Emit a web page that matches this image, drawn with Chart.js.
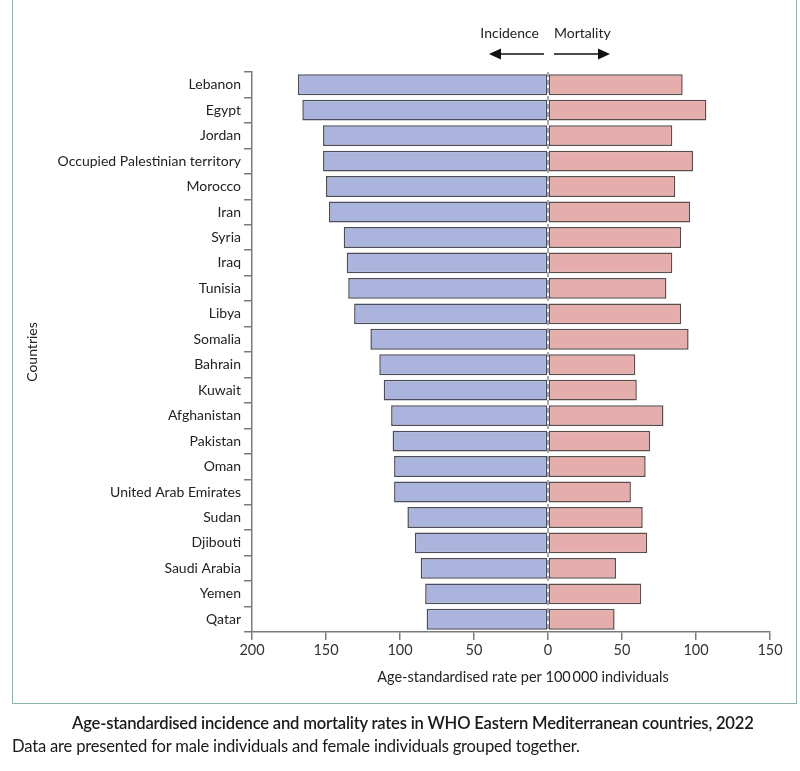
<!DOCTYPE html>
<html>
<head>
<meta charset="utf-8">
<script src="https://cdn.jsdelivr.net/npm/chart.js@4.4.1/dist/chart.umd.min.js"></script>
<style>
  html, body { margin: 0; padding: 0; background: #fff; }
  body { width: 800px; height: 771px; position: relative; overflow: hidden; font-family: Lato, 'Noto Sans', sans-serif; }
  .frame { position: absolute; left: 12px; top: -4px; width: 785px; height: 708px; border: 1.5px solid #8cb3a2; box-sizing: border-box; }
  .wrap { position: absolute; left: 0; top: 0; width: 800px; height: 771px; }
  .cap1 { position: absolute; left: 72px; top: 713px; font-size: 16.6px; font-weight: 600; color: #1a1a1a; white-space: nowrap; letter-spacing: -0.2px; }
  .cap2 { position: absolute; left: 12px; top: 736px; font-size: 16.6px; color: #1a1a1a; white-space: nowrap; letter-spacing: -0.2px; }
</style>
</head>
<body>
<div class="frame"></div>
<div class="wrap"><canvas id="chart" width="800" height="771"></canvas></div>
<div class="cap1">Age-standardised incidence and mortality rates in WHO Eastern Mediterranean countries, 2022</div>
<div class="cap2">Data are presented for male individuals and female individuals grouped together.</div>
<script>
// categories top to bottom
const countries = [
  'Lebanon', 'Egypt', 'Jordan', 'Occupied Palestinian territory', 'Morocco',
  'Iran', 'Syria', 'Iraq', 'Tunisia', 'Libya', 'Somalia', 'Bahrain', 'Kuwait',
  'Afghanistan', 'Pakistan', 'Oman', 'United Arab Emirates', 'Sudan',
  'Djibouti', 'Saudi Arabia', 'Yemen', 'Qatar'
]

// incidence per 100 000 (drawn to the left)
const incidence = [169, 166, 152, 152, 150, 148, 138, 136, 135, 131, 120, 114, 111, 106, 105, 104, 104, 95, 90, 86, 83, 82]

// mortality per 100 000 (drawn to the right)
const mortality = [91, 107, 84, 98, 86, 96, 90, 84, 80, 90, 95, 59, 60, 78, 69, 66, 56, 64, 67, 46, 63, 45]

const xTicks = [-200, -150, -100, -50, 0, 50, 100, 150]

const fontFamily = "Lato, 'Noto Sans', sans-serif"

// dashed zero line, header with arrows and the x axis title
const headerPlugin = {
  id: 'header',
  afterDatasetsDraw (chart) {
    const { ctx, chartArea } = chart
    const x0 = chart.scales.x.getPixelForValue(0)
    ctx.save()
    ctx.strokeStyle = '#8c8c96'
    ctx.lineWidth = 1.5
    ctx.setLineDash([5, 3])
    ctx.beginPath()
    ctx.moveTo(x0, chartArea.top)
    ctx.lineTo(x0, chartArea.bottom)
    ctx.stroke()
    ctx.restore()
  },
  afterDraw (chart) {
    const { ctx } = chart
    const x0 = chart.scales.x.getPixelForValue(0)
    ctx.save()
    ctx.fillStyle = '#222'
    ctx.font = '14px ' + fontFamily
    ctx.textBaseline = 'middle'
    ctx.textAlign = 'right'
    ctx.fillText('Incidence', x0 - 9, 33)
    ctx.textAlign = 'left'
    ctx.fillText('Mortality', x0 + 6, 33)

    // x axis title, sits a little right of the centre in the original
    ctx.font = '14.5px ' + fontFamily
    ctx.textAlign = 'center'
    ctx.fillText('Age-standardised rate per 100\u2009000 individuals', x0 - 25, 677)

    const y = 54
    ctx.strokeStyle = '#111'
    ctx.fillStyle = '#111'
    ctx.lineWidth = 1.3
    // left arrow
    ctx.beginPath()
    ctx.moveTo(x0 - 4, y)
    ctx.lineTo(x0 - 50, y)
    ctx.stroke()
    ctx.beginPath()
    ctx.moveTo(x0 - 59, y)
    ctx.lineTo(x0 - 47, y - 5.5)
    ctx.lineTo(x0 - 47, y + 5.5)
    ctx.closePath()
    ctx.fill()
    // right arrow
    ctx.beginPath()
    ctx.moveTo(x0 + 6, y)
    ctx.lineTo(x0 + 53, y)
    ctx.stroke()
    ctx.beginPath()
    ctx.moveTo(x0 + 62, y)
    ctx.lineTo(x0 + 50, y - 5.5)
    ctx.lineTo(x0 + 50, y + 5.5)
    ctx.closePath()
    ctx.fill()
    ctx.restore()
  }
}

new Chart(document.getElementById('chart'), {
  type: 'bar',
  data: {
    labels: countries,
    datasets: [
      {
        label: 'Incidence',
        data: incidence.map((v) => -v),
        backgroundColor: '#aab4dc',
        borderColor: '#4d4d5a',
        borderWidth: 1.5,
        borderSkipped: false,
        categoryPercentage: 1,
        barPercentage: 0.82
      },
      {
        label: 'Mortality',
        data: mortality,
        backgroundColor: '#e5adab',
        borderColor: '#5a4d4d',
        borderWidth: 1.5,
        borderSkipped: false,
        categoryPercentage: 1,
        barPercentage: 0.82
      }
    ]
  },
  options: {
    indexAxis: 'y',
    responsive: false,
    animation: false,
    layout: {
      padding: { top: 72, right: 30, bottom: 80, left: 0 }
    },
    scales: {
      x: {
        stacked: true,
        min: -200,
        max: 150,
        afterBuildTicks: (scale) => {
          scale.ticks = xTicks.map((v) => ({ value: v }))
        },
        afterFit: (scale) => {
          scale.height = 59
        },
        ticks: {
          callback: (value) => Math.abs(value),
          color: '#333',
          font: { family: fontFamily, size: 14.5 },
          padding: 2,
          maxRotation: 0
        },
        grid: {
          drawOnChartArea: false,
          tickLength: 8,
          color: '#7a7a7a',
          lineWidth: 1.5
        },
        border: { color: '#7a7a7a', width: 1.5 }
      },
      y: {
        stacked: true,
        afterFit: (scale) => {
          scale.width = 252
        },
        ticks: {
          color: '#222',
          font: { family: fontFamily, size: 14 },
          padding: 3
        },
        grid: {
          offset: true,
          drawOnChartArea: false,
          tickLength: 8,
          color: '#7a7a7a',
          lineWidth: 1.5
        },
        border: { color: '#7a7a7a', width: 1.5 },
        title: {
          display: true,
          text: 'Countries',
          color: '#222',
          font: { family: fontFamily, size: 14 },
          padding: { top: 24 }
        }
      }
    },
    plugins: {
      legend: { display: false },
      tooltip: { enabled: false }
    }
  },
  plugins: [headerPlugin]
})
</script>
</body>
</html>
